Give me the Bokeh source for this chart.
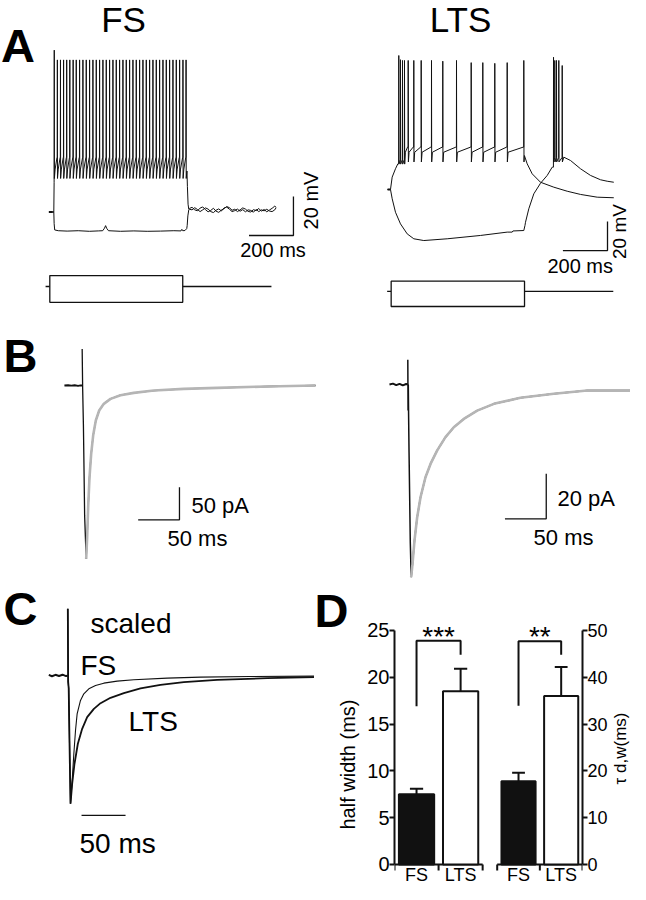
import math
from bokeh.plotting import figure
from bokeh.layouts import column, row
from bokeh.models import Range1d, Label, FixedTicker
from bokeh.embed import file_html
from bokeh.resources import INLINE

FONT = "Liberation Sans"

# ---------------- Panel A : current-clamp responses (ms, mV) ----------------
# FS cell
fs_rest = -65.0
fs_spike_times = [2, 16, 30, 44, 58, 72, 87, 101, 116, 131, 146, 161, 176, 191, 206,
                  221, 236, 251, 266, 281, 296, 311, 326, 341, 356, 371, 386, 401, 416,
                  431, 446, 461, 476, 491, 506, 521, 536, 551, 566, 581, 595]
fs_first_peak = 18.0
fs_spike_peak = 13.0
fs_trough = -47.8
fs_mid = -43.0
fs_threshold = -37.0
fs_dep_end_t = [599, 601, 604, 607]
fs_dep_end_v = [-44.0, -52.0, -61.0, -63.5]
fs_hyp_t = [-22, 0, 1.5, 4, 20, 60, 110, 160, 200, 220, 228, 233, 238, 246, 300, 360,
            420, 480, 540, 572, 576, 580, 590, 598, 600, 603, 607]
fs_hyp_v = [-65, -65, -71, -74.2, -74.6, -74.8, -74.6, -74.9, -74.7, -74.6, -73.3, -72.0,
            -73.4, -74.6, -74.9, -74.7, -74.9, -74.8, -74.6, -74.7, -73.9, -74.6, -74.5,
            -73.5, -72.0, -67.0, -64.0]
fs_post_t = [610, 622, 634, 646, 658, 670, 682, 694, 706, 718, 730, 742, 754, 766, 778,
             790, 802, 814, 826, 838, 850, 862, 874, 886, 898, 910, 922, 934, 946, 958,
             970, 982, 994, 1000]
fs_post_v1 = [-63.2, -62.6, -63.9, -64.4, -63.0, -62.4, -63.8, -64.9, -64.2, -63.1, -64.6,
              -65.2, -64.0, -63.3, -62.2, -62.8, -64.1, -63.6, -64.8, -63.9, -62.9, -63.5,
              -64.7, -65.0, -63.8, -64.3, -63.2, -64.6, -63.7, -64.9, -64.0, -63.1, -62.0, -62.6]
fs_post_v2 = [-63.6, -63.9, -62.8, -63.7, -64.8, -63.9, -62.9, -63.5, -64.8, -65.3, -64.1,
              -63.4, -64.5, -62.9, -62.5, -63.6, -64.8, -64.3, -63.5, -64.6, -63.8, -64.9,
              -63.9, -64.2, -65.1, -63.7, -64.8, -63.9, -64.4, -63.6, -64.5, -64.8, -63.9, -62.8]
fs_cmd_t = [-37, -18, 580, 979]          # holding, step on, step off, end
fs_cmd_levels = [-103.2, -111.3, -97.6]  # holding, box bottom, box top

# LTS cell
lts_rest = -65.0
lts_dep_pre_t = [-13, 0, 7.5, 22.4, 33.0]
lts_dep_pre_v = [-65, -65, -56.5, -50.7, -47.3]
lts_spike_times = [37.2, 44.8, 53.8, 62.8, 79.4, 104.5, 137.7, 183.9, 234.5, 296.0,
                   361.9, 413.9, 467.7, 523.3, 597.8]
lts_spike_peaks = [27.4, 24.5, 24.0, 24.0, 24.0, 24.0, 24.0, 24.0, 23.5, 24.0, 22.5,
                   22.5, 22.0, 22.5, 24.0]
lts_trough = -46.0
lts_after = -39.3
lts_shelf = -35.8
lts_dep_post_t = [600.5, 613, 635.4, 672.6, 732.3, 792.4, 852, 926.9, 1001.3]
lts_dep_post_v = [-41.6, -47.3, -54.2, -60.0, -63.4, -66.2, -68.4, -70.3, -70.7]
lts_hyp_t = [-13, 0, 7.6, 22.4, 44.8, 74.9, 104.5, 149.3, 254.3, 403.6, 523.3, 545.7,
             549, 597.8, 603, 605.4, 620.2, 642.6, 672.6, 702.7, 725.1]
lts_hyp_v = [-65, -65, -71.4, -80.7, -88.7, -95.6, -99.0, -100.2, -99.0, -96.7, -94.4,
             -94.4, -93.6, -93.3, -89.8, -87.6, -78.3, -68.0, -60.7, -55.3, -49.6]
lts_reb_times = [731, 736.8, 744.4, 754.7, 770]
lts_reb_peaks = [26.2, 24.0, 24.0, 24.0, 20.5]
lts_reb_post_t = [777.1, 807.2, 852, 896.9, 941.7, 971.7, 1001.3]
lts_reb_post_v = [-42.7, -45.0, -50.7, -55.3, -58.3, -59.3, -60.0]
lts_cmd_t = [-15, 3, 601, 999]
lts_cmd_levels = [-135.3, -145.7, -128.2]

# ---------------- Panel B : EPSCs with fits (ms, pA) ----------------
b_fs_base_t = [-21.5, -17, -13, -9, -5, -2, 0]
b_fs_base_i = [0, 0.4, -0.3, 0.4, -0.4, 0.3, 0]
b_fs_rise_t = [0, 0.6, 1.5, 3.0, 4.84]
b_fs_rise_i = [56, -5, -60, -200, -266]
b_fs_t = [4.84, 6.05, 7.26, 8.88, 10.9, 13.3, 16.5, 20.6, 26.2, 34.3, 46.4, 62.5, 86.7,
          123.1, 163.4, 224.0, 282.5]
b_fs_fit = [-266, -232.8, -186.8, -140.8, -105.0, -76.7, -53.7, -38.3, -28.1, -20.5,
            -14.8, -11.3, -7.7, -5.1, -3.6, -1.5, 0.0]
b_lts_base_t = [-22.2, -18, -14, -10, -6, -2, 0]
b_lts_base_i = [0, 0.4, -0.3, 0.3, -0.4, 0.2, 0]
b_lts_rise_t = [0, 0.3, 0.6, 0.9, 1.5, 3.0, 4.08]
b_lts_rise_i = [11, -11.6, 0, -11.6, -30, -70, -85.6]
b_lts_t = [4.08, 5.69, 8.11, 11.34, 15.4, 21.4, 27.5, 35.6, 45.6, 55.7, 67.8, 84.0,
           104.2, 136.4, 176.8, 217.2, 279.8]
b_lts_fit = [-85.6, -79.7, -69.3, -59.0, -50.1, -41.2, -35.3, -29.3, -23.4, -19.0, -15.3,
             -11.6, -8.6, -5.9, -4.1, -2.7, -2.7]

# ---------------- Panel C : scaled EPSCs (ms, normalised) ----------------
c_base_t = [-21.6, -18, -14, -10, -6, -2, 0]
c_base_a = [0.004, -0.006, 0.005, -0.004, 0.006, -0.005, 0.0]
c_art_t = [0, 0.4, 1.0, 2.0]
c_art_a = [0.52, -0.05, -0.1, -0.55]
c_fs_t = [3.07, 4.97, 6.85, 8.75, 10.6, 14.4, 18.2, 23.9, 31.5, 40.9, 56.1, 75.0, 112.9,
          150.8, 207.6, 283.4]
c_fs_a = [-1.0, -0.818, -0.610, -0.429, -0.299, -0.195, -0.143, -0.104, -0.078, -0.060,
          -0.044, -0.034, -0.021, -0.013, -0.008, -0.005]
c_lts_t = [3.07, 4.97, 7.6, 11.4, 16.3, 22.0, 29.6, 37.2, 48.5, 63.7, 82.6, 105.3, 131.8,
           169.7, 226.6, 283.4]
c_lts_a = [-1.0, -0.844, -0.688, -0.532, -0.416, -0.325, -0.260, -0.216, -0.174, -0.138,
           -0.101, -0.073, -0.052, -0.034, -0.021, -0.013]

# ---------------- Panel D : summary bars ----------------
groups = ["FS", "LTS"]
hw_mean = [7.5, 18.5]
hw_sem = [0.6, 2.4]
tau_mean = [17.8, 36.0]
tau_sem = [1.8, 6.2]
hw_ticks = [0, 5, 10, 15, 20, 25]
tau_ticks = [0, 10, 20, 30, 40, 50]
hw_bracket = [16.9, 23.9, 22.4]
tau_bracket = [33.9, 47.7, 44.8]
hw_stars = "***"
tau_stars = "**"

BLACK = "#111111"
GREY = "#b5b5b5"


def blank(w, h, xr, yr):
    p = figure(width=w, height=h, x_range=Range1d(*xr), y_range=Range1d(*yr),
               x_axis_type=None, y_axis_type=None, toolbar_location=None,
               output_backend="svg", min_border=0, outline_line_color=None)
    p.background_fill_color = "white"
    p.border_fill_color = "white"
    return p


def txt(p, x, y, s, size, align="left", bold=False, angle=0.0):
    p.add_layout(Label(x=x, y=y, text=s, text_font=FONT, text_font_size=size,
                       text_align=align, text_baseline="middle", text_color="black",
                       text_font_style="bold" if bold else "normal", angle=angle))


def command(p, ct, lv):
    p.line([ct[0], ct[1]], [lv[0], lv[0]], line_color=BLACK, line_width=1.3)
    p.quad(left=[ct[1]], right=[ct[2]], bottom=[lv[1]], top=[lv[2]],
           fill_color="white", line_color=BLACK, line_width=1.3)
    p.line([ct[2], ct[3]], [lv[0], lv[0]], line_color=BLACK, line_width=1.3)


# ======== A - FS ========
pA1 = blank(323, 318, (-239.8, 1213.2), (-119.62, 43.46))
dep_t = [-22, 0]
dep_v = [fs_rest, fs_rest]
for i, ts in enumerate(fs_spike_times):
    pk = fs_first_peak if i == 0 else fs_spike_peak
    dep_t += [ts - 0.6, ts, ts + 0.6]
    dep_v += [(-50.0 if i == 0 else fs_threshold), pk, fs_trough]
    if i + 1 < len(fs_spike_times):
        nt = fs_spike_times[i + 1]
        dep_t += [ts + 4, nt - 1.5]
        dep_v += [fs_mid, fs_threshold]
dep_t += fs_dep_end_t + fs_post_t
dep_v += fs_dep_end_v + fs_post_v1
pA1.line(fs_hyp_t + fs_post_t, fs_hyp_v + fs_post_v2, line_color=BLACK, line_width=1)
pA1.line(dep_t, dep_v, line_color=BLACK, line_width=1)
pA1.line([-22, -6], [fs_rest, fs_rest], line_color=BLACK, line_width=2)
command(pA1, fs_cmd_t, fs_cmd_levels)
pA1.line([878, 1078, 1078], [-77.05, -77.05, -57.05], line_color=BLACK, line_width=1.3)
txt(pA1, -238, 20.38, "A", "47px", bold=True)
txt(pA1, 313.5, 33.7, "FS", "35px", align="center")
txt(pA1, 986, -84.74, "200 ms", "20px", align="center")
txt(pA1, 1159.2, -59.1, "20 mV", "20px", align="center", angle=math.pi / 2)

# ======== A - LTS ========
pA2 = blank(307, 318, (-300.4, 1076.2), (-153.97, 65.34))
lt = list(lts_dep_pre_t)
lv = list(lts_dep_pre_v)
prev = lts_dep_pre_v[-1]
for i, ts in enumerate(lts_spike_times):
    burst = i + 1 < len(lts_spike_times) and lts_spike_times[i + 1] - ts <= 12
    tr = lts_trough - 1.5 if i < 4 else lts_trough
    lt += [ts - 0.4, ts, ts + 0.8]
    lv += [prev, lts_spike_peaks[i], tr]
    if i + 1 < len(lts_spike_times):
        nt = lts_spike_times[i + 1]
        if burst:
            lt += [nt - 1]
            lv += [tr + 3]
            prev = tr + 3
        else:
            lt += [ts + 4, nt - 3]
            lv += [lts_after, lts_shelf]
            prev = lts_shelf
lt += lts_dep_post_t
lv += lts_dep_post_v
ht = list(lts_hyp_t)
hv = list(lts_hyp_v)
prev = lts_hyp_v[-1]
for i, ts in enumerate(lts_reb_times):
    ht += [ts - 0.4, ts, ts + 0.8]
    hv += [prev, lts_reb_peaks[i], lts_trough]
    if i + 1 < len(lts_reb_times):
        ht += [lts_reb_times[i + 1] - 1]
        hv += [lts_trough + 3]
        prev = lts_trough + 3
ht += lts_reb_post_t
hv += lts_reb_post_v
pA2.line(ht, hv, line_color=BLACK, line_width=1)
pA2.line(lt, lv, line_color=BLACK, line_width=1)
pA2.line([-13, -2], [lts_rest, lts_rest], line_color=BLACK, line_width=2)
command(pA2, lts_cmd_t, lts_cmd_levels)
pA2.line([773.1, 973.1, 973.1], [-107.1, -107.1, -87.1], line_color=BLACK, line_width=1.3)
txt(pA2, 313.9, 52.2, "LTS", "35px", align="center")
txt(pA2, 850.7, -117.76, "200 ms", "20px", align="center")
txt(pA2, 1026.9, -93.97, "20 mV", "19px", align="center", angle=math.pi / 2)

# ======== B - FS ========
pB1 = blank(323, 262, (-98.87, 292.17), (-299.1, 102.8))
pB1.line(b_fs_base_t, b_fs_base_i, line_color=BLACK, line_width=1.8)
pB1.line(b_fs_rise_t + b_fs_t, b_fs_rise_i + b_fs_fit, line_color=BLACK, line_width=1.3)
pB1.line(b_fs_t, b_fs_fit, line_color=GREY, line_width=2.6)
pB1.line([67.8, 117.8, 117.8], [-206, -206, -156], line_color=BLACK, line_width=1.3)
txt(pB1, -95.2, 46.8, "B", "47px", bold=True)
txt(pB1, 132.4, -184.0, "50 pA", "22px")
txt(pB1, 139.6, -234.7, "50 ms", "22px", align="center")

# ======== B - LTS ========
pB2 = blank(307, 262, (-102.06, 269.6), (-87.1, 29.33))
pB2.line(b_lts_base_t, b_lts_base_i, line_color=BLACK, line_width=2.0)
pB2.line(b_lts_rise_t + b_lts_t, b_lts_rise_i + b_lts_fit, line_color=BLACK, line_width=1.5)
pB2.line(b_lts_t, b_lts_fit, line_color=GREY, line_width=2.6)
pB2.line([117.6, 167.6, 167.6], [-59.7, -59.7, -39.7], line_color=BLACK, line_width=1.3)
txt(pB2, 181.2, -50.7, "20 pA", "22px")
txt(pB2, 188.5, -68.0, "50 ms", "22px", align="center")

# ======== C ========
pC = blank(314, 304, (-76.48, 280.3), (-1.629, 0.740))
pC.line(c_base_t, c_base_a, line_color=BLACK, line_width=2.0)
pC.line(c_art_t + c_lts_t, c_art_a + c_lts_a, line_color=BLACK, line_width=1.8)
pC.line(c_art_t + c_fs_t, c_art_a + c_fs_a, line_color=BLACK, line_width=1.1)
pC.line([15.6, 65.6], [-1.091, -1.091], line_color=BLACK, line_width=1.3)
txt(pC, -73.1, 0.518, "C", "47px", bold=True)
txt(pC, 25.8, 0.405, "scaled", "28px")
txt(pC, 14.4, 0.078, "FS", "28px")
txt(pC, 69.0, -0.359, "LTS", "28px")
txt(pC, 13.3, -1.306, "50 ms", "28px")

# ======== D ========
HW_Y = (-2.137, 30.34)
TAU_Y = (-4.274, 60.68)


def bar_panel(p, means, sems, bracket, stars, star_y, label_y, tick_len):
    pos = [0.5, 1.5]
    p.line([0, 2], [0, 0], line_color=BLACK, line_width=2)
    p.segment(x0=[0, 1, 2], y0=[0, 0, 0], x1=[0, 1, 2], y1=[-tick_len] * 3,
              line_color=BLACK, line_width=2)
    p.vbar(x=pos, top=means, width=0.8, fill_color=[BLACK, "white"],
           line_color=BLACK, line_width=2)
    tops = [m + s for m, s in zip(means, sems)]
    p.segment(x0=pos, y0=means, x1=pos, y1=tops, line_color=BLACK, line_width=2)
    p.segment(x0=[x - 0.15 for x in pos], y0=tops, x1=[x + 0.15 for x in pos], y1=tops,
              line_color=BLACK, line_width=2)
    p.line([0.5, 0.5, 1.5, 1.5], [bracket[0], bracket[1], bracket[1], bracket[2]],
           line_color=BLACK, line_width=2)
    txt(p, 1.0, star_y, stars, "28px", align="center")
    for x, g in zip(pos, groups):
        txt(p, x, label_y, g, "18px", align="center")


def style_yaxis(p, yticks, ymax, size):
    ya = p.yaxis[0]
    ya.ticker = FixedTicker(ticks=yticks)
    ya.bounds = (0, ymax)
    ya.axis_line_width = 2
    ya.axis_line_color = BLACK
    ya.major_tick_line_width = 2
    ya.major_tick_line_color = BLACK
    ya.major_tick_out = 5
    ya.major_tick_in = 0
    ya.minor_tick_out = 0
    ya.minor_tick_in = 0
    ya.major_label_text_font = FONT
    ya.major_label_text_font_size = size
    ya.major_label_text_color = "black"
    ya.major_label_standoff = 0
    p.grid.visible = False


# label strip left of the half-width axis
pDl = blank(50, 304, (0, 50), HW_Y)
txt(pDl, 0, 27.14, "D", "47px", bold=True)
txt(pDl, 33, 10.68, "half width (ms)", "20px", align="center", angle=math.pi / 2)

pD1 = figure(width=126, height=304, x_range=Range1d(0, 2.178), y_range=Range1d(*HW_Y),
             x_axis_location=None, toolbar_location=None, output_backend="svg",
             min_border_left=28, min_border_right=0, min_border_top=0, min_border_bottom=0,
             outline_line_color=None)
style_yaxis(pD1, hw_ticks, 25, "20px")
bar_panel(pD1, hw_mean, hw_sem, hw_bracket, hw_stars, 24.36, -1.175, 0.641)

pD2 = figure(width=120, height=304, x_range=Range1d(-0.157, 2.0), y_range=Range1d(*TAU_Y),
             x_axis_location=None, y_axis_location="right", toolbar_location=None,
             output_backend="svg", min_border_left=0, min_border_right=24,
             min_border_top=0, min_border_bottom=0, outline_line_color=None)
style_yaxis(pD2, tau_ticks, 50, "18px")
bar_panel(pD2, tau_mean, tau_sem, tau_bracket, tau_stars, 48.72, -2.35, 1.282)

# label strip right of the tau axis
pDr = blank(20, 304, (0, 20), TAU_Y)
txt(pDr, 10, 24.79, "τ d,w(ms)", "17px", align="center", angle=math.pi / 2)

layout = column(row(pA1, pA2), row(pB1, pB2), row(pC, pDl, pD1, pD2, pDr))
open("out.html", "w").write(file_html(layout, INLINE, title="FS vs LTS"))
